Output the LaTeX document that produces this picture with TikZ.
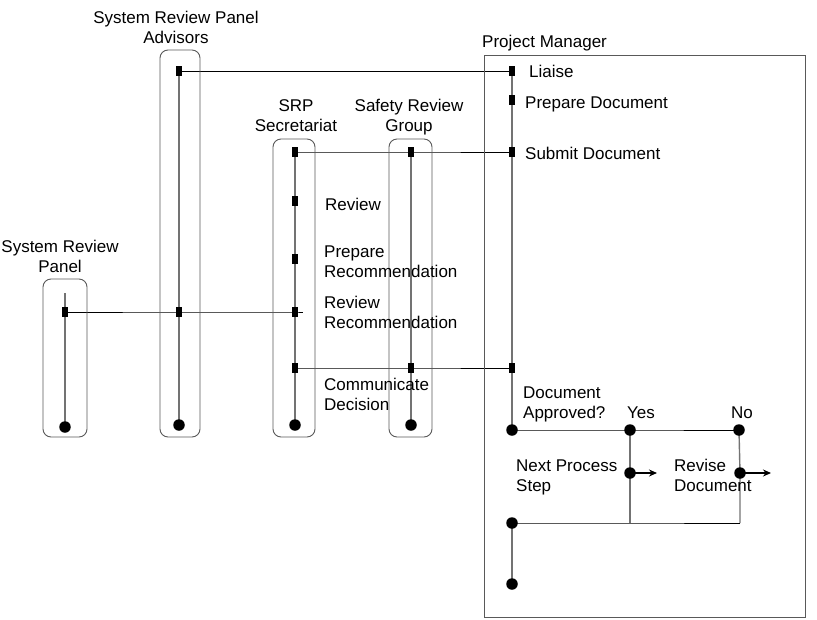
\documentclass[tikz,border=0pt]{standalone}
\usepackage{fontspec}
\setmainfont{Liberation Sans}
\usetikzlibrary{arrows.meta}
\pgfdeclarelayer{lines}
\pgfsetlayers{lines,main}
\begin{document}
\begin{tikzpicture}[x=1pt,y=-1pt,
  lane/.style={draw=black!65,line width=0.9pt,rounded corners=8pt},
  pmbox/.style={draw=black!65,line width=0.9pt},
  life/.style={draw=black!55,line width=1.4pt},
  msg/.style={draw=black,line width=0.9pt},
  act/.style={fill=black,inner sep=0pt,minimum width=6pt,minimum height=10pt},
  evt/.style={circle,fill=black,inner sep=0pt,minimum size=11.5pt},
  txt/.style={inner sep=0pt,font=\fontsize{17}{20}\selectfont},
  lbl/.style={txt,anchor=base west,align=left},
  hd/.style={txt,anchor=base,align=center},
  go/.style={draw=black,line width=1.6pt,-{Stealth[length=8pt,width=7pt]}},
  ]
\useasboundingbox (0,0) rectangle (817,619);

% ---- swimlanes ----
\draw[lane] (43,279) rectangle (87,437);
\draw[lane] (160,50) rectangle (200,437);
\draw[lane] (273,139) rectangle (315,437);
\draw[lane] (389,139) rectangle (432,437);
\draw[pmbox] (484,55) rectangle (805,617);

% ---- lane headings (anchored on the baseline of the last line) ----
\node[hd] (hSRP) at (60,272) {System Review\\Panel};
\node[hd] (hADV) at (176,43) {System Review Panel\\Advisors};
\node[hd] (hSEC) at (296,131) {SRP\\Secretariat};
\node[hd] (hSRG) at (409,131) {Safety Review\\Group};
\node[txt,anchor=base west] (hPM) at (482,47) {Project Manager};

% ---- System Review Panel lifeline ----
\coordinate (p0) at (65,293);
\node[act] (p1) at (65,312) {};
\node[evt] (pE) at (65,427) {};

% ---- Advisors lifeline ----
\coordinate (a0) at (179,66);
\node[act] (a1) at (179,71) {};
\node[act] (a2) at (179,312) {};
\node[evt] (aE) at (179,425) {};

% ---- Secretariat lifeline ----
\node[act] (s1) at (295,152) {};
\node[act] (s2) at (295,201) {};
\node[act] (s3) at (295,259) {};
\node[act] (s4) at (295,312) {};
\node[act] (s5) at (295,368) {};
\node[evt] (sE) at (295,425) {};
\coordinate (s4r) at (303,312);

% ---- Safety Review Group lifeline ----
\node[act] (g1) at (411,152) {};
\node[act] (g2) at (411,368) {};
\node[evt] (gE) at (411,425) {};

% ---- Project Manager lifeline ----
\node[act] (m1) at (512,71) {};
\node[act] (m2) at (512,100) {};
\node[act] (m3) at (512,152) {};
\node[act] (m4) at (512,368) {};
\node[evt] (mD) at (512,430) {};

% ---- activity labels ----
\node[lbl] (tLiaise) at (529,77) {Liaise};
\node[lbl] (tPrep) at (525,108) {Prepare Document};
\node[lbl] (tSubmit) at (525,159) {Submit Document};
\node[lbl] (tReview) at (325,210) {Review};
\node[lbl] (tPrepRec) at (324,277) {Prepare\\Recommendation};
\node[lbl] (tRevRec) at (324,328) {Review\\Recommendation};
\node[lbl] (tComm) at (324,410) {Communicate\\Decision};

% ---- decision ----
\node[lbl] (tDoc) at (523,418) {Document\\Approved?};
\node[evt] (dYes) at (630,430) {};
\node[evt] (dNo) at (739,430) {};
\node[txt,anchor=base west] (tYes) at (627,418) {Yes};
\node[txt,anchor=base west] (tNo) at (731,418) {No};
\node[evt] (yOut) at (630,473) {};
\node[evt] (nOut) at (740,473) {};
\coordinate (yEnd) at (657,473);
\coordinate (nEnd) at (771,473);
\coordinate (yBot) at (630,523);
\coordinate (nBot) at (740,523);
\node[lbl] (tNext) at (516,491) {Next Process\\Step};
\node[lbl] (tRevise) at (674,491) {Revise\\Document};
\node[evt] (mJ) at (512,523) {};
\node[evt] (mF) at (512,584) {};

% ---- lifelines and connectors, kept beneath the bars and dots ----
\begin{pgfonlayer}{lines}
  \draw[life] (p0) -- (pE.center);
  \draw[life] (a0) -- (aE.center);
  \draw[life] (s1.center) -- (sE.center);
  \draw[life] (g1.center) -- (gE.center);
  \draw[life] (m1.center) -- (mD.center);
  \draw[msg] (a1.center) -- (m1.center);
  \draw[msg] (s1.center) -- (g1.center) -- (m3.center);
  \draw[msg] (p1.center) -- (a2.center) -- (s4.center) -- (s4r);
  \draw[msg] (s5.center) -- (g2.center) -- (m4.center);
  \draw[msg] (mD.center) -- (dYes.center) -- (dNo.center);
  \draw[life] (dYes.center) -- (yOut.center) -- (yBot);
  \draw[life] (dNo.center) -- (nOut.center) -- (nBot);
  \draw[go] (yOut.center) -- (yEnd);
  \draw[go] (nOut.center) -- (nEnd);
  \draw[msg] (mJ.center) -- (yBot) -- (nBot);
  \draw[life] (mJ.center) -- (mF.center);
\end{pgfonlayer}
\end{tikzpicture}
\end{document}
